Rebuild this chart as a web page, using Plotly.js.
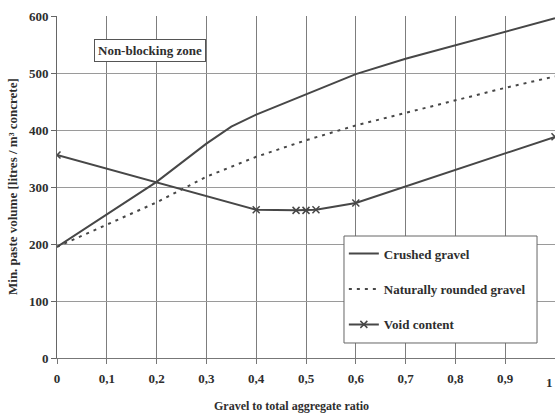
<!DOCTYPE html>
<html><head><meta charset="utf-8">
<script src="https://cdn.plot.ly/plotly-3.0.1.min.js"></script>
<style>html,body{margin:0;padding:0;background:#fff}#chart{width:555px;height:416px}</style>
</head><body><div id="chart"></div>
<script>
// Data
const crushedX = [0, 0.1, 0.2, 0.3, 0.35, 0.4, 0.45, 0.5, 0.6, 0.7, 0.8, 0.9, 1.0];
const crushedY = [195, 252, 309, 376, 406, 427, 445, 463, 498, 525, 549, 572, 596];
const roundedX = [0, 0.1, 0.2, 0.3, 0.4, 0.5, 0.6, 0.7, 0.8, 0.9, 1.0];
const roundedY = [195, 234, 273, 318, 353, 382, 408, 430, 452, 474, 494];
const voidX = [0, 0.4, 0.48, 0.5, 0.52, 0.6, 1.0];
const voidY = [356, 260, 259, 259, 260, 272, 388];
const xTickVals = [0, 0.1, 0.2, 0.3, 0.4, 0.5, 0.6, 0.7, 0.8, 0.9, 1];
const xTickText = ['0', '0,1', '0,2', '0,3', '0,4', '0,5', '0,6', '0,7', '0,8', '0,9', ''];
const lastTick = '1';
const yTickVals = [0, 100, 200, 300, 400, 500, 600];
const names = ['Crushed gravel', 'Naturally rounded gravel', 'Void content'];

const ink = '#474747';
const fam = 'Liberation Serif, Times New Roman, serif';
const txt = '#2e2e2e';

const traces = [
  {x: crushedX, y: crushedY, name: names[0], mode: 'lines', legendgroup: 'a',
   line: {color: ink, width: 2}},
  {x: roundedX, y: roundedY, name: names[1], mode: 'lines', legendgroup: 'b',
   line: {color: ink, width: 2, dash: '3px,5px'}},
  {x: voidX, y: voidY, name: names[2], mode: 'lines+markers', legendgroup: 'c',
   line: {color: ink, width: 2},
   marker: {symbol: 'x-thin', size: 7, line: {color: ink, width: 1.5}, color: ink}}
];

const layout = {
  width: 555, height: 416,
  margin: {l: 57, r: 0, t: 16, b: 58},
  paper_bgcolor: '#fff', plot_bgcolor: '#fff',
  font: {family: fam, size: 13, color: txt},
  showlegend: true,
  legend: {
    x: 0.576, y: 0.349, xanchor: 'left', yanchor: 'top',
    bgcolor: 'rgba(0,0,0,0)', borderwidth: 0,
    traceorder: 'grouped', tracegroupgap: 15.5,
    font: {family: fam, size: 13, color: txt, weight: 'bold'}
  },
  shapes: [
    {type: 'rect', xref: 'paper', yref: 'paper', layer: 'above',
     x0: 0.5763, x1: 0.9639, y0: 0.0439, y1: 0.3567,
     fillcolor: '#fff', line: {color: '#666', width: 1}}
  ],
  xaxis: {
    range: [0, 1], tickvals: xTickVals, ticktext: xTickText,
    showgrid: true, gridcolor: '#7d7d7d', gridwidth: 1,
    zeroline: false, showline: true, linecolor: '#777', linewidth: 1,
    ticks: 'outside', ticklen: 5, tickcolor: '#777', ticklabelstandoff: 3,
    tickfont: {family: fam, size: 13, color: txt, weight: 'bold'},
    fixedrange: true
  },
  yaxis: {
    range: [0, 600], tickvals: yTickVals,
    showgrid: true, gridcolor: '#9a9a9a', gridwidth: 1,
    zeroline: false, showline: true, linecolor: '#666', linewidth: 1,
    ticks: 'outside', ticklen: 5, tickcolor: '#666',
    tickfont: {family: fam, size: 13, color: txt, weight: 'bold'},
    fixedrange: true
  },
  annotations: [
    {xref: 'paper', yref: 'paper', x: 0.187, y: 0.898, xanchor: 'center', yanchor: 'middle',
     text: 'Non-blocking zone', showarrow: false,
     font: {family: fam, size: 13, color: txt, weight: 'bold'},
     bgcolor: '#fff', bordercolor: '#555', borderwidth: 1, borderpad: 3},
    {xref: 'paper', yref: 'paper', x: 1.0, y: 0, yshift: -24, xanchor: 'right', yanchor: 'middle',
     text: lastTick, showarrow: false,
     font: {family: fam, size: 13, color: txt, weight: 'bold'}},
    {xref: 'paper', yref: 'paper', x: (291 - 57) / 498, y: -0.14, xanchor: 'center', yanchor: 'middle',
     text: 'Gravel to total aggregate ratio', showarrow: false,
     font: {family: fam, size: 12, color: txt, weight: 'bold'}},
    {xref: 'paper', yref: 'paper', x: (12 - 57) / 498, y: 0.5, xanchor: 'center', yanchor: 'middle',
     text: 'Min. paste volume [litres / m³ concrete]', showarrow: false, textangle: -90,
     font: {family: fam, size: 13, color: txt, weight: 'bold'}}
  ]
};

Plotly.newPlot('chart', traces, layout, {displayModeBar: false, staticPlot: true});
</script></body></html>
